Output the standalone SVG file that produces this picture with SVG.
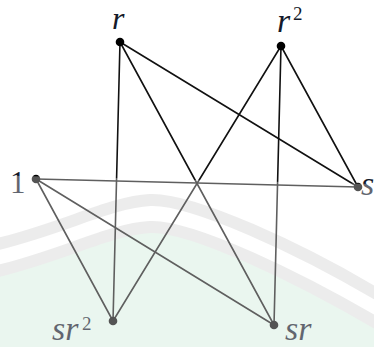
<svg xmlns="http://www.w3.org/2000/svg" width="374" height="347" viewBox="0 0 374 347">
<style>
.edge{stroke:#111;stroke-width:1.6;fill:none;stroke-linecap:round}
.dot{fill:#000}
.lbl{font-family:"Liberation Serif","Times New Roman",serif;font-style:italic;font-size:34px;fill:#141a2a}
.num{font-family:"Liberation Serif","Times New Roman",serif;font-size:31px;fill:#141a2a}
.sup{font-family:"Liberation Serif","Times New Roman",serif;font-size:19px;fill:#141a2a}
.band{fill:none;stroke:#e3e3e3;stroke-width:12;stroke-linejoin:round}
</style>
<rect width="374" height="347" fill="#fff"/>
<g id="watermark">
<path d="M-10,270 C60,254 110,226 150,224 C190,222 300,274 390,328 L390,360 L-10,360 Z" fill="#e0f2e7"/>
<path class="band" d="M-10,246 C60,230 110,202 150,200 C190,198 300,247 390,302"/>
<path class="band" d="M-10,273 C60,257 110,229 150,227 C190,225 300,277 390,331"/>
</g>
<g id="connectors">
<line class="edge" x1="120" y1="42" x2="113" y2="321"/>
<line class="edge" x1="120" y1="42" x2="274" y2="325"/>
<line class="edge" x1="120" y1="42" x2="358" y2="187"/>
<line class="edge" x1="281" y1="46" x2="113" y2="321"/>
<line class="edge" x1="281" y1="46" x2="274" y2="325"/>
<line class="edge" x1="281" y1="46" x2="358" y2="187"/>
<line class="edge" x1="36" y1="179" x2="358" y2="187"/>
<line class="edge" x1="36" y1="179" x2="113" y2="321"/>
<line class="edge" x1="36" y1="179" x2="274" y2="325"/>
</g>
<g id="node-r"><circle class="dot" cx="120" cy="42" r="4.3"/><text class="lbl" x="112" y="29" style="font-size:32px">r</text></g>
<g id="node-r2"><circle class="dot" cx="281" cy="46" r="4.3"/><text class="lbl" x="277" y="32">r</text><text class="sup" x="293" y="20">2</text></g>
<g id="node-1"><circle class="dot" cx="36" cy="179" r="4.3"/><text class="num" x="10" y="193">1</text></g>
<g id="node-s"><circle class="dot" cx="358" cy="187" r="4.3"/><text class="lbl" x="361" y="195">s</text></g>
<g id="node-sr2"><circle class="dot" cx="113" cy="321" r="4.3"/><text class="lbl" x="52" y="340">sr</text><text class="sup" x="82" y="330">2</text></g>
<g id="node-sr"><circle class="dot" cx="274" cy="325" r="4.3"/><text class="lbl" x="285" y="340">sr</text></g>
<path id="fade" d="M0,175.5 L374,184 L374,347 L0,347 Z" fill="#fff" fill-opacity="0.33"/>
</svg>
